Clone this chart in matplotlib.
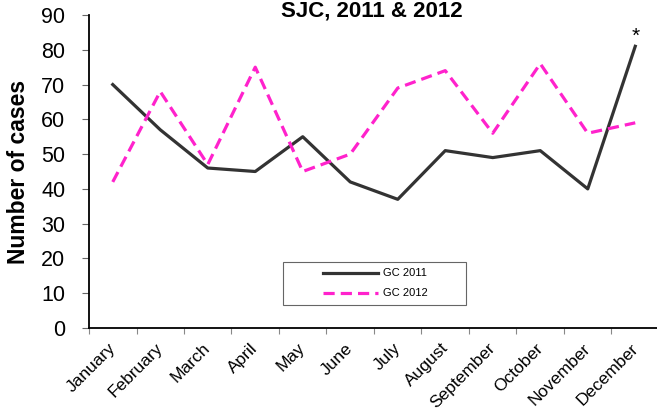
import matplotlib
matplotlib.use("Agg")
import matplotlib.pyplot as plt
from matplotlib.patches import Rectangle
import matplotlib.transforms as mtransforms
import numpy as np

plt.rcParams['font.family'] = ['Liberation Sans', 'DejaVu Sans']

months = ["January", "February", "March", "April", "May", "June", "July",
          "August", "September", "October", "November", "December"]
gc_2011 = [70, 57, 46, 45, 55, 42, 37, 51, 49, 51, 40, 81]
gc_2012 = [42, 68, 47, 75, 45, 50, 69, 74, 56, 76, 56, 59]
title = "SJC, 2011 & 2012"
ylabel = "Number of cases"

W, H = 657, 416
fig = plt.figure(figsize=(W/100, H/100), dpi=100)
ax_l, ax_r, ax_b, ax_t = 89, 659, 328, 15
ax = fig.add_axes([ax_l/W, 1-ax_b/H, (ax_r-ax_l)/W, (ax_b-ax_t)/H])

x = np.arange(len(months))
ax.plot(x, gc_2011, color='#333333', lw=2.3, label='GC 2011')
ax.plot(x, gc_2012, color='#FF22CC', lw=2.3, ls=(0, (3.5, 1.9)), label='GC 2012')

ax.set_xlim(-0.5, 11.5)
ax.set_ylim(0, 90)
ax.set_yticks(range(0, 91, 10))
ax.tick_params(axis='y', labelsize=15.5, length=5, width=0.8, color='#666666',
               direction='out', pad=12)
ax.set_xticks(np.arange(-0.5, 12, 1))
ax.set_xticklabels([])
ax.set_xticks(x, minor=True)
ax.set_xticklabels(months, minor=True, rotation=45, ha='right', va='top',
                   rotation_mode='anchor', fontsize=12.5)
ax.tick_params(axis='x', which='major', length=4, width=0.8, color='#888888')
ax.tick_params(axis='x', which='minor', length=0, pad=9)
shift = mtransforms.ScaledTranslation(-5/100, 0, fig.dpi_scale_trans)
for lab in ax.get_xticklabels(minor=True):
    lab.set_transform(lab.get_transform() + shift)

for s in ['top', 'right']:
    ax.spines[s].set_visible(False)
ax.spines['left'].set_linewidth(1.3)
ax.spines['bottom'].set_linewidth(1.3)

ax.set_ylabel(ylabel, fontsize=16.5, fontweight='bold', labelpad=8)

fig.text(372/W, 1-16.5/H, title, ha='center', va='baseline',
         fontsize=16, fontweight='bold')

ax.annotate('*', xy=(11, gc_2011[11]), xytext=(0, 0), textcoords='offset points',
            ha='center', va='bottom', fontsize=15)

# legend box
bx0, bx1, by0, by1 = 283, 466, 262, 305
fig.patches.append(Rectangle((bx0/W, 1-by1/H), (bx1-bx0)/W, (by1-by0)/H,
                             transform=fig.transFigure, facecolor='white',
                             edgecolor='#666666', lw=0.8, zorder=5))
leg = fig.legend(loc='center', bbox_to_anchor=((bx0+bx1)/2/W + 0.001, 1-(by0+by1)/2/H),
                 fontsize=8, frameon=False, handlelength=4.9, labelspacing=0.9,
                 borderpad=0, handletextpad=0.45)
leg.set_zorder(6)

fig.savefig('out.png', dpi=100)
